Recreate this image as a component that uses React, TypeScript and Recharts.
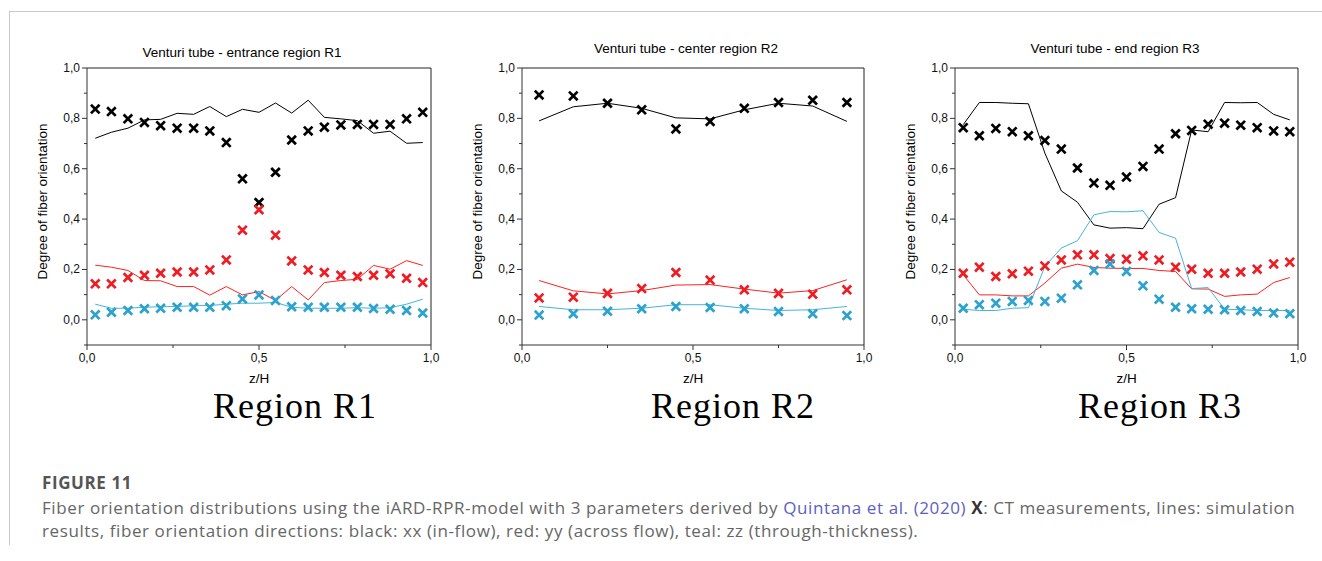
import React from "react";
import { ComposedChart, Line, Scatter, XAxis, YAxis, ReferenceLine } from "recharts";

// z/H positions of the CT slices (R1, R3: 21 slices, R2: 10 slices)
const zFine = [0.024, 0.071, 0.119, 0.167, 0.214, 0.262, 0.31, 0.357, 0.405, 0.452, 0.5, 0.548, 0.595, 0.643, 0.69, 0.738, 0.786, 0.833, 0.881, 0.929, 0.976];
const zCoarse = [0.05, 0.15, 0.25, 0.35, 0.45, 0.55, 0.65, 0.75, 0.85, 0.95];

// Region R1 - entrance
const r1BlackCT = [0.837, 0.827, 0.798, 0.784, 0.771, 0.761, 0.761, 0.75, 0.704, 0.56, 0.466, 0.586, 0.714, 0.75, 0.765, 0.774, 0.776, 0.776, 0.776, 0.798, 0.824];
const r1RedCT = [0.143, 0.143, 0.168, 0.177, 0.185, 0.19, 0.19, 0.198, 0.238, 0.356, 0.437, 0.336, 0.234, 0.198, 0.188, 0.177, 0.172, 0.177, 0.183, 0.165, 0.148];
const r1TealCT = [0.02, 0.03, 0.037, 0.044, 0.046, 0.05, 0.05, 0.05, 0.056, 0.083, 0.099, 0.077, 0.052, 0.05, 0.05, 0.05, 0.05, 0.045, 0.042, 0.037, 0.027];
const r1BlackSim = [0.721, 0.745, 0.761, 0.794, 0.796, 0.82, 0.816, 0.847, 0.807, 0.836, 0.824, 0.861, 0.821, 0.872, 0.804, 0.798, 0.791, 0.741, 0.749, 0.701, 0.704];
const r1RedSim = [0.217, 0.209, 0.196, 0.156, 0.155, 0.132, 0.132, 0.098, 0.132, 0.099, 0.112, 0.077, 0.132, 0.079, 0.148, 0.156, 0.161, 0.216, 0.201, 0.235, 0.216];
const r1TealSim = [0.062, 0.046, 0.046, 0.05, 0.052, 0.053, 0.056, 0.057, 0.062, 0.066, 0.066, 0.069, 0.05, 0.046, 0.046, 0.046, 0.048, 0.046, 0.048, 0.062, 0.082];

// Region R2 - center
const r2BlackCT = [0.893, 0.889, 0.86, 0.834, 0.758, 0.788, 0.84, 0.863, 0.872, 0.863];
const r2RedCT = [0.087, 0.09, 0.105, 0.124, 0.188, 0.158, 0.119, 0.105, 0.102, 0.119];
const r2TealCT = [0.019, 0.024, 0.034, 0.044, 0.053, 0.049, 0.044, 0.033, 0.024, 0.017];
const r2BlackSim = [0.79, 0.846, 0.86, 0.84, 0.802, 0.798, 0.834, 0.86, 0.849, 0.788];
const r2RedSim = [0.156, 0.115, 0.103, 0.116, 0.138, 0.14, 0.122, 0.106, 0.116, 0.159];
const r2TealSim = [0.053, 0.04, 0.04, 0.046, 0.06, 0.06, 0.046, 0.037, 0.04, 0.053];

// Region R3 - end
const r3BlackCT = [0.763, 0.731, 0.76, 0.747, 0.731, 0.712, 0.678, 0.603, 0.543, 0.534, 0.567, 0.609, 0.678, 0.739, 0.752, 0.777, 0.781, 0.773, 0.763, 0.75, 0.747];
const r3RedCT = [0.185, 0.209, 0.172, 0.183, 0.193, 0.214, 0.238, 0.258, 0.258, 0.243, 0.241, 0.254, 0.238, 0.209, 0.201, 0.185, 0.185, 0.19, 0.201, 0.222, 0.229];
const r3TealCT = [0.046, 0.06, 0.066, 0.073, 0.077, 0.073, 0.086, 0.139, 0.196, 0.222, 0.192, 0.135, 0.082, 0.05, 0.044, 0.042, 0.04, 0.037, 0.033, 0.027, 0.024];
const r3BlackSim = [0.775, 0.863, 0.863, 0.86, 0.858, 0.662, 0.512, 0.467, 0.377, 0.364, 0.366, 0.362, 0.459, 0.485, 0.754, 0.747, 0.863, 0.862, 0.863, 0.816, 0.794];
const r3RedSim = [0.179, 0.099, 0.099, 0.095, 0.095, 0.146, 0.205, 0.221, 0.208, 0.205, 0.204, 0.204, 0.196, 0.192, 0.123, 0.122, 0.093, 0.099, 0.102, 0.148, 0.168];
const r3TealSim = [0.042, 0.037, 0.037, 0.046, 0.048, 0.212, 0.285, 0.314, 0.417, 0.43, 0.429, 0.433, 0.347, 0.324, 0.124, 0.128, 0.042, 0.04, 0.037, 0.037, 0.037];

const yTicks = [-0.1, 0, 0.1, 0.2, 0.3, 0.4, 0.5, 0.6, 0.7, 0.8, 0.9, 1.0];
const xTicks = [0, 0.25, 0.5, 0.75, 1.0];

const titles = ["Venturi tube - entrance region R1", "Venturi tube - center region R2", "Venturi tube - end region R3"];
const regionLabels = ["Region R1", "Region R2", "Region R3"];

const BLACK = "#000000";
const RED = "#ee1d23";
const RED_LINE = "#ff2020";
const TEAL = "#2ca2cc";
const TEAL_LINE = "#44b4dc";

const buildRows = (z: number[], bc: number[], rc: number[], tc: number[], bs: number[], rs: number[], ts: number[]) =>
  z.map((v, i) => ({ z: v, bc: bc[i], rc: rc[i], tc: tc[i], bs: bs[i], rs: rs[i], ts: ts[i] }));

const fmt = (v: number) => v.toFixed(1).replace(".", ",");

function XMark({ cx, cy, color }: any) {
  if (cx == null || cy == null) return null;
  const s = 4.3;
  return (
    <path
      d={`M${cx - s},${cy - s}L${cx + s},${cy + s}M${cx - s},${cy + s}L${cx + s},${cy - s}`}
      stroke={color}
      strokeWidth={2.7}
      fill="none"
    />
  );
}

function YTick({ x, y, payload }: any) {
  const v = payload.value;
  const major = v >= 0 && Math.round(v * 10) % 2 === 0;
  return (
    <g>
      <line x1={x} x2={x - (major ? 5 : 3)} y1={y} y2={y} stroke="#333" strokeWidth={1} />
      {major && (
        <text x={x - 7} y={y} textAnchor="end" dominantBaseline="central" fontSize={12} fill="#111">
          {fmt(v)}
        </text>
      )}
    </g>
  );
}

function XTick({ x, y, payload }: any) {
  const v = payload.value;
  const major = Math.round(v * 4) % 2 === 0;
  return (
    <g>
      <line x1={x} x2={x} y1={y} y2={y + (major ? 5 : 3)} stroke="#333" strokeWidth={1} />
      {major && (
        <text x={x} y={y + 13} textAnchor="middle" dominantBaseline="central" fontSize={12} fill="#111">
          {fmt(v)}
        </text>
      )}
    </g>
  );
}

function YLabel({ viewBox }: any) {
  const x = viewBox.x + viewBox.width - 45;
  const y = viewBox.y + viewBox.height / 2 - 5;
  return (
    <text x={x} y={y} transform={`rotate(-90, ${x}, ${y})`} textAnchor="middle" dominantBaseline="central" fontSize={13.5} fill="#000">
      Degree of fiber orientation
    </text>
  );
}

function XLabel({ viewBox }: any) {
  const x = viewBox.x + viewBox.width / 2;
  const y = viewBox.y + 33;
  return (
    <text x={x} y={y} textAnchor="middle" dominantBaseline="central" fontSize={13.5} fill="#000">
      z/H
    </text>
  );
}

function Panel({ rows, plotLeft, plotWidth }: { rows: any[]; plotLeft: number; plotWidth: number }) {
  const width = 67 + plotWidth + 10;
  return (
    <div style={{ position: "absolute", left: plotLeft - 67, top: 40 }}>
      <ComposedChart width={width} height={350} data={rows} margin={{ top: 28, right: 10, bottom: 0, left: 17 }}>
        <XAxis
          dataKey="z"
          type="number"
          domain={[0, 1]}
          ticks={xTicks}
          interval={0}
          tickSize={0}
          tickMargin={0}
          tick={<XTick />}
          tickLine={false}
          axisLine={{ stroke: "#333" }}
          height={45}
          label={<XLabel />}
          allowDataOverflow
        />
        <YAxis
          type="number"
          domain={[-0.1, 1.0]}
          ticks={yTicks}
          interval={0}
          tickSize={0}
          tickMargin={0}
          tick={<YTick />}
          tickLine={false}
          axisLine={{ stroke: "#333" }}
          width={50}
          label={<YLabel />}
          allowDataOverflow
        />
        <ReferenceLine y={1} stroke="#222" strokeWidth={1} />
        <ReferenceLine x={1} stroke="#222" strokeWidth={1} />
        <Line type="linear" dataKey="bs" stroke={BLACK} strokeWidth={1} dot={false} isAnimationActive={false} />
        <Line type="linear" dataKey="rs" stroke={RED_LINE} strokeWidth={1} dot={false} isAnimationActive={false} />
        <Line type="linear" dataKey="ts" stroke={TEAL_LINE} strokeWidth={1} dot={false} isAnimationActive={false} />
        <Scatter dataKey="bc" isAnimationActive={false} shape={(p: any) => <XMark {...p} color={BLACK} />} />
        <Scatter dataKey="rc" isAnimationActive={false} shape={(p: any) => <XMark {...p} color={RED} />} />
        <Scatter dataKey="tc" isAnimationActive={false} shape={(p: any) => <XMark {...p} color={TEAL} />} />
      </ComposedChart>
    </div>
  );
}

const panels = [
  { rows: buildRows(zFine, r1BlackCT, r1RedCT, r1TealCT, r1BlackSim, r1RedSim, r1TealSim), plotLeft: 87, plotWidth: 344, titleX: 242, titleY: 53, regionX: 295 },
  { rows: buildRows(zCoarse, r2BlackCT, r2RedCT, r2TealCT, r2BlackSim, r2RedSim, r2TealSim), plotLeft: 522, plotWidth: 342, titleX: 686, titleY: 49, regionX: 733 },
  { rows: buildRows(zFine, r3BlackCT, r3RedCT, r3TealCT, r3BlackSim, r3RedSim, r3TealSim), plotLeft: 955, plotWidth: 343, titleX: 1115, titleY: 49, regionX: 1160 },
];

const captionFont = "'Open Sans', 'Noto Sans', sans-serif";

export default function App() {
  return (
    <div
      style={{
        position: "absolute",
        left: 0,
        top: 0,
        width: 1322,
        height: 561,
        background: "#fff",
        fontFamily: "'Liberation Sans', Arial, sans-serif",
        overflow: "hidden",
      }}
    >
      {/* frame */}
      <div style={{ position: "absolute", left: 9, top: 11, width: 1313, height: 0, borderTop: "1.5px solid #c8c8c8" }} />
      <div style={{ position: "absolute", left: 9, top: 11, width: 0, height: 534, borderLeft: "1.5px solid #c8c8c8" }} />

      {panels.map((p, i) => (
        <React.Fragment key={i}>
          <div
            style={{
              position: "absolute",
              left: p.titleX,
              top: p.titleY,
              transform: "translate(-50%, -50%)",
              fontSize: 13.5,
              lineHeight: 1,
              whiteSpace: "nowrap",
              color: "#000",
            }}
          >
            {titles[i]}
          </div>
          <Panel rows={p.rows} plotLeft={p.plotLeft} plotWidth={p.plotWidth} />
          <div
            style={{
              position: "absolute",
              left: p.regionX,
              top: 393,
              height: 26,
              transform: "translateX(-50%)",
              fontFamily: "'Liberation Serif', 'Times New Roman', serif",
              fontSize: 36,
              letterSpacing: 1,
              lineHeight: "26px",
              whiteSpace: "nowrap",
              color: "#000",
            }}
          >
            {regionLabels[i]}
          </div>
        </React.Fragment>
      ))}

      {/* caption */}
      <div
        style={{
          position: "absolute",
          left: 42,
          top: 472,
          fontFamily: captionFont,
          fontSize: 17,
          fontWeight: 700,
          letterSpacing: 0.6,
          color: "#555",
          lineHeight: "22px",
        }}
      >
        FIGURE 11
      </div>
      <div
        style={{
          position: "absolute",
          left: 42,
          top: 496,
          fontFamily: captionFont,
          fontSize: 17,
          letterSpacing: 0.6,
          color: "#666",
          lineHeight: "23px",
          whiteSpace: "nowrap",
        }}
      >
        Fiber orientation distributions using the iARD-RPR-model with 3 parameters derived by{" "}
        <span style={{ color: "#5a5fc4" }}>Quintana et al. (2020)</span> <b style={{ color: "#333" }}>X</b>: CT measurements, lines: simulation
        <br />
        results, fiber orientation directions: black: xx (in-flow), red: yy (across flow), teal: zz (through-thickness).
      </div>
    </div>
  );
}
